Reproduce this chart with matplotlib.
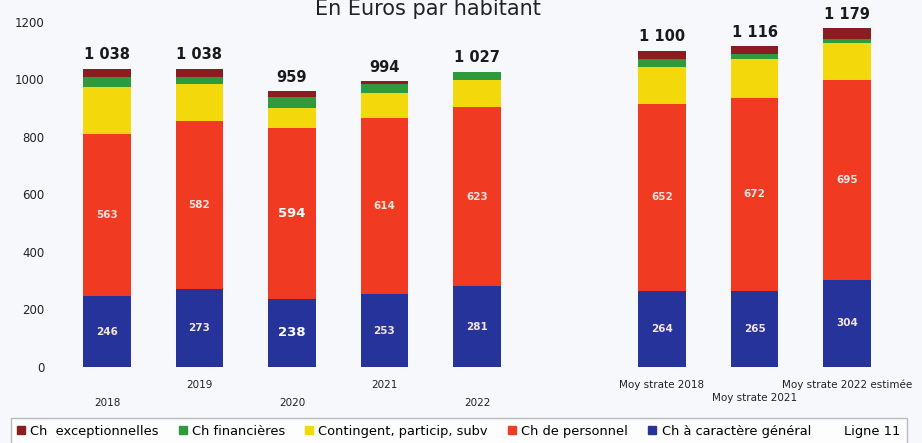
import matplotlib
matplotlib.use("Agg")
import matplotlib.pyplot as plt
from matplotlib.patches import Patch
from matplotlib.lines import Line2D

# Charges de fonctionnement, en euros par habitant
categories = ["2018", "2019", "2020", "2021", "2022",
              "Moy strate 2018", "Moy strate 2021", "Moy strate 2022 estimée"]
general = [246, 273, 238, 253, 281, 264, 265, 304]
personnel = [563, 582, 594, 614, 623, 652, 672, 695]
contingent = [166, 128, 70, 85, 94, 128, 133, 129]
financieres = [35, 27, 38, 31, 29, 29, 18, 12]
exceptionnelles = [28, 28, 19, 11, 0, 27, 28, 39]
totals = [1038, 1038, 959, 994, 1027, 1100, 1116, 1179]
yticks = [0, 200, 400, 600, 800, 1000, 1200]

series = [
    ("Ch à caractère général", general, "#26339a"),
    ("Ch de personnel", personnel, "#f03a22"),
    ("Contingent, particip, subv", contingent, "#f3d90c"),
    ("Ch financières", financieres, "#2e9a3c"),
    ("Ch  exceptionnelles", exceptionnelles, "#8b1c22"),
]

# commune bars 0..4, then a gap, strate bars 6..8
positions = [0, 1, 2, 3, 4, 6, 7, 8]

bg = "#f6f8fb"
fig = plt.figure(figsize=(9.22, 4.43), dpi=100, facecolor=bg)
ax = fig.add_axes([50 / 922, 76 / 443, 860 / 922, 345 / 443])
ax.set_facecolor(bg)

bottom = [0] * len(categories)
for name, vals, col in series:
    ax.bar(positions, vals, width=0.51, bottom=bottom, color=col, label=name)
    bottom = [b + v for b, v in zip(bottom, vals)]

# values inside the blue and red segments
for i, p in enumerate(positions):
    if i == 2:
        kw = dict(fontsize=9.5, fontweight="bold", color="white")
    else:
        kw = dict(fontsize=7.5, fontweight="bold", color="#f4e4de")
    ax.text(p, general[i] / 2, str(general[i]), ha="center", va="center", **kw)
    ax.text(p, general[i] + personnel[i] / 2, str(personnel[i]),
            ha="center", va="center", **kw)
    label = f"{totals[i]:,}".replace(",", " ")
    ax.text(p, totals[i] + 22, label, ha="center", va="bottom",
            fontsize=10.5, fontweight="bold", color="#1a1a1a")

ax.set_xlim(-0.616, 8.681)
ax.set_ylim(0, 1200)
ax.set_yticks(yticks)
ax.tick_params(axis="y", length=0, pad=4, labelsize=8.5, labelcolor="#222222")
ax.set_xticks([])
for s in ax.spines.values():
    s.set_visible(False)

# staggered category labels
low = [-0.104, -0.052, -0.104, -0.052, -0.104, -0.052, -0.09, -0.052]
for i, p in enumerate(positions):
    ax.text(p, low[i], categories[i], transform=ax.get_xaxis_transform(),
            ha="center", va="center", fontsize=7.5, color="#222222")

fig.text(428 / 922, 1 - 15 / 443, "En Euros par habitant", ha="center",
         va="baseline", fontsize=15, color="#222222")

handles = [Patch(color=col) for name, vals, col in reversed(series)]
labels = [name for name, vals, col in reversed(series)]
handles.append(Line2D([], [], linestyle="none"))
labels.append("Ligne 11")
leg = fig.legend(handles, labels, loc="lower left", bbox_to_anchor=(4 / 922, -8 / 443),
                 ncol=6, fontsize=9.4, frameon=True, fancybox=False,
                 handlelength=0.6, handleheight=0.6, handletextpad=0.4,
                 columnspacing=1.55, borderpad=0.5)
leg.get_frame().set_edgecolor("#aaaaaa")
leg.get_frame().set_facecolor("white")

fig.savefig("out.png", dpi=100, facecolor=bg)
